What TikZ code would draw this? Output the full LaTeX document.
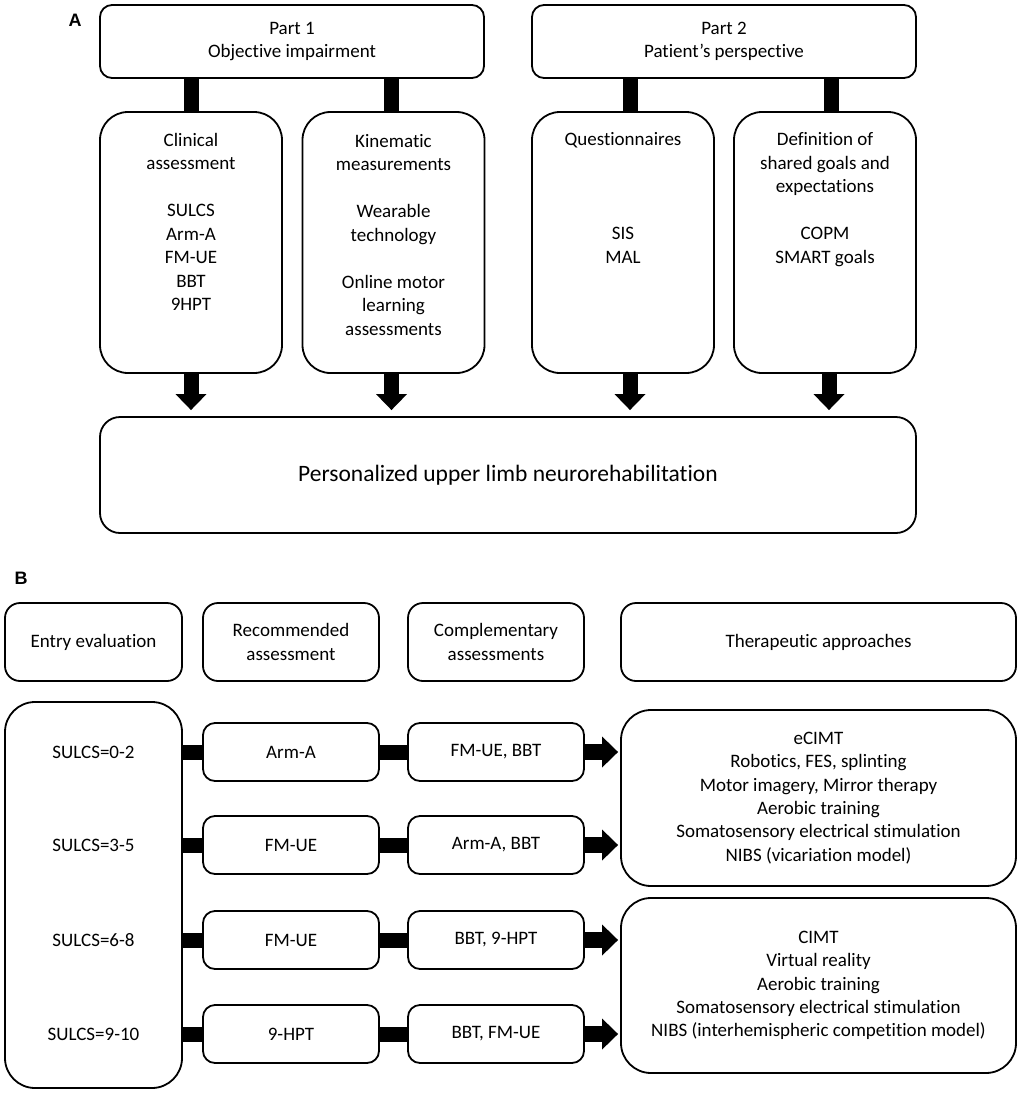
\documentclass[tikz,border=0pt]{standalone}
\usepackage{fontspec}
\setmainfont{Carlito}[Ligatures={NoCommon,NoContextual}]
\newfontfamily\labfont{Liberation Sans}
\usetikzlibrary{arrows.meta,calc}
\begin{document}
\begin{tikzpicture}[x=1pt,y=-1pt,
  box/.style={draw, line width=1.8pt, align=center, inner sep=0pt,
    font=\fontsize{19}{23.3}\selectfont},
  txt/.style={align=center, inner sep=0pt, font=\fontsize{19}{23.5}\selectfont},
  lab/.style={inner sep=0pt, font=\labfont\bfseries\fontsize{18}{21}\selectfont},
  bar/.style={line width=15pt},
  fat/.style={line width=15pt, -{Triangle[width=30pt,length=16pt]}},
  fatr/.style={line width=16pt, -{Triangle[width=30pt,length=16pt]}},
]
\useasboundingbox (0,0) rectangle (1021,1093);

% ---------------- Part A ----------------
\node[lab] (A) at (75,20) {A};
\node[box, rounded corners=12pt, minimum width=384pt, minimum height=73pt] (p1) at (292,41.5) {Part 1\\Objective impairment};
\node[box, rounded corners=12pt, minimum width=384pt, minimum height=73pt] (p2) at (724,41.5) {Part 2\\Patient's perspective};

\node[box, rounded corners=28pt, minimum width=182pt, minimum height=261pt] (c1) at (191,242.5) {};
\node[box, rounded corners=28pt, minimum width=182pt, minimum height=261pt] (c2) at (393.5,242.5) {};
\node[box, rounded corners=28pt, minimum width=182pt, minimum height=261pt] (c3) at (623,242.5) {};
\node[box, rounded corners=28pt, minimum width=182pt, minimum height=261pt] (c4) at (825,242.5) {};

\node[txt] (t1) at (191,222) {Clinical\\assessment\\[23.5pt]SULCS\\Arm-A\\FM-UE\\BBT\\9HPT};
\node[txt] (t2) at (393.5,235) {Kinematic\\measurements\\[23.5pt]Wearable\\technology\\[23.5pt]Online motor\\learning\\assessments};
\node[txt, anchor=north] (t3) at (623,132.5) {Questionnaires\\[70.5pt]SIS\\MAL};
\node[txt, anchor=north] (t4) at (825,132.5) {Definition of\\shared goals and\\expectations\\[23.5pt]COPM\\SMART goals};

\node[box, rounded corners=20pt, minimum width=816pt, minimum height=116pt,
  font=\fontsize{23.5}{28}\selectfont] (pers) at (508,475) {Personalized upper limb neurorehabilitation};

\draw[bar] (c1.north) -- (c1.north |- p1.south);
\draw[bar] ([xshift=-2pt]c2.north) -- ([xshift=-2pt]c2.north |- p1.south);
\draw[bar] ([xshift=7pt]c3.north) -- ([xshift=7pt]c3.north |- p2.south);
\draw[bar] ([xshift=6pt]c4.north) -- ([xshift=6pt]c4.north |- p2.south);

\draw[fat] (c1.south) -- ([yshift=6pt]c1.south |- pers.north);
\draw[fat] ([xshift=-2pt]c2.south) -- ([xshift=-2pt,yshift=6pt]c2.south |- pers.north);
\draw[fat] ([xshift=7pt]c3.south) -- ([xshift=7pt,yshift=6pt]c3.south |- pers.north);
\draw[fat] ([xshift=4pt]c4.south) -- ([xshift=4pt,yshift=6pt]c4.south |- pers.north);

% ---------------- Part B ----------------
\node[lab] (B) at (21,578) {B};
\node[box, rounded corners=15pt, minimum width=177pt, minimum height=78pt] (h1) at (93.5,642) {Entry evaluation};
\node[box, rounded corners=15pt, minimum width=176pt, minimum height=78pt] (h2) at (291,642) {Recommended\\assessment};
\node[box, rounded corners=15pt, minimum width=176pt, minimum height=78pt] (h3) at (496,642) {Complementary\\assessments};
\node[box, rounded corners=15pt, minimum width=395pt, minimum height=78pt] (h4) at (818.5,642) {Therapeutic approaches};

\node[box, rounded corners=30pt, minimum width=177pt, minimum height=386pt] (L) at (93.5,895) {};
\node[txt] (s1) at (93.5,752) {SULCS=0-2};
\node[txt] (s2) at (93.5,845) {SULCS=3-5};
\node[txt] (s3) at (93.5,940) {SULCS=6-8};
\node[txt] (s4) at (93.5,1034) {SULCS=9-10};

\node[box, rounded corners=12pt, minimum width=176pt, minimum height=58pt] (r1) at (291,752) {Arm-A};
\node[box, rounded corners=12pt, minimum width=176pt, minimum height=58pt] (r2) at (291,845) {FM-UE};
\node[box, rounded corners=12pt, minimum width=176pt, minimum height=58pt] (r3) at (291,940) {FM-UE};
\node[box, rounded corners=12pt, minimum width=176pt, minimum height=58pt] (r4) at (291,1034) {9-HPT};

\node[box, rounded corners=12pt, minimum width=176pt, minimum height=58pt] (k1) at (496,752) {FM-UE, BBT};
\node[box, rounded corners=12pt, minimum width=176pt, minimum height=58pt] (k2) at (496,845) {Arm-A, BBT};
\node[box, rounded corners=12pt, minimum width=176pt, minimum height=58pt] (k3) at (496,940) {BBT, 9-HPT};
\node[box, rounded corners=12pt, minimum width=176pt, minimum height=58pt] (k4) at (496,1034) {BBT, FM-UE};

\node[box, rounded corners=30pt, minimum width=395pt, minimum height=176pt] (T1) at (818.5,798)
  {eCIMT\\Robotics, FES, splinting\\Motor imagery, Mirror therapy\\Aerobic training\\Somatosensory electrical stimulation\\NIBS (vicariation model)};
\node[box, rounded corners=30pt, minimum width=395pt, minimum height=175pt] (T2) at (818.5,985.5)
  {CIMT\\Virtual reality\\Aerobic training\\Somatosensory electrical stimulation\\NIBS (interhemispheric competition model)};

\foreach \i in {1,2,3,4} {
  \draw[bar] (L.east |- r\i.west) -- (r\i.west);
  \draw[bar] (r\i.east) -- (k\i.west);
}
\draw[fatr] (k1.east) -- ([xshift=-2pt]k1.east -| T1.west);
\draw[fatr] (k2.east) -- ([xshift=-2pt]k2.east -| T1.west);
\draw[fatr] (k3.east) -- ([xshift=-2pt]k3.east -| T2.west);
\draw[fatr] (k4.east) -- ([xshift=-2pt]k4.east -| T2.west);
\end{tikzpicture}
\end{document}
